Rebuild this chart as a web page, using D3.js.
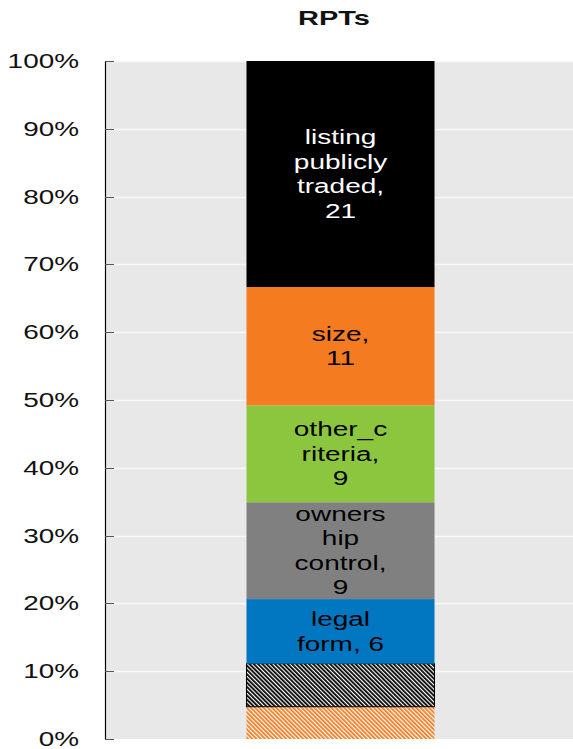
<!DOCTYPE html>
<html>
<head>
<meta charset="utf-8">
<script src="https://cdn.jsdelivr.net/npm/d3@7"></script>
<style>
  body { margin: 0; background: #fff; }
  text { font-family: "Liberation Sans", Arial, sans-serif; }
</style>
</head>
<body>
<div id="chart"></div>
<script>
"use strict";

// segments, bottom to top
var categories = ["other_hatched", "none_hatched", "legal form", "ownership control", "other_criteria", "size", "listing publicly traded"];
var values = [3, 4, 6, 9, 9, 11, 21];
var colors = ["#f47b20", "#000000", "#0077c0", "#808080", "#8cc63f", "#f47b20", "#000000"];
var hatched = [true, true, false, false, false, false, false];
var textColors = ["#000", "#000", "#000", "#000", "#000", "#000", "#fff"];
// label lines as drawn in the bar ({v} = value)
var labelLines = [
    [],
    [],
    ["legal", "form, {v}"],
    ["owners", "hip", "control,", "{v}"],
    ["other_c", "riteria,", "{v}"],
    ["size,", "{v}"],
    ["listing", "publicly", "traded,", "{v}"]
];
var barName = "RPTs";
var tickValues = [0, 0.1, 0.2, 0.3, 0.4, 0.5, 0.6, 0.7, 0.8, 0.9, 1];

var W = 573, H = 749;
var margin = { top: 61, right: -3, bottom: 10, left: 105 };
var stretch = 1.4; // text is drawn horizontally widened

var svg = d3.select("#chart").append("svg")
    .attr("width", W)
    .attr("height", H);

var x = d3.scaleBand()
    .domain([barName])
    .range([margin.left, W - margin.right])
    .padding(0.4294);
var y = d3.scaleLinear()
    .domain([0, 1])
    .range([H - margin.bottom, margin.top]);

var total = d3.sum(values);
var rows = [];
var acc = 0;
values.forEach(function (v, i) {
    rows.push({ i: i, v: v, y0: acc / total, y1: (acc + v) / total });
    acc += v;
});

// hatch patterns
var defs = svg.append("defs");
colors.forEach(function (c, i) {
    if (!hatched[i]) return;
    var p = defs.append("pattern")
        .attr("id", "hatch" + i)
        .attr("patternUnits", "userSpaceOnUse")
        .attr("width", 3)
        .attr("height", 3)
        .attr("patternTransform", "rotate(-45)");
    p.append("rect").attr("width", 3).attr("height", 3).attr("fill", "#fff");
    p.append("rect").attr("width", 1.8).attr("height", 3).attr("fill", c);
});

// plot background
svg.append("rect")
    .attr("x", margin.left)
    .attr("y", y(1))
    .attr("width", W - margin.left)
    .attr("height", y(0) - y(1))
    .attr("fill", "#e8e8e8");

// gridlines
svg.append("g").selectAll("line")
    .data(tickValues.filter(function (d) { return d > 0; }))
    .enter().append("line")
    .attr("x1", margin.left)
    .attr("x2", W)
    .attr("y1", function (d) { return Math.round(y(d)) + 0.5; })
    .attr("y2", function (d) { return Math.round(y(d)) + 0.5; })
    .attr("stroke", "#f8f8f8")
    .attr("stroke-width", 1.5);

// bar segments
svg.append("g").selectAll("rect")
    .data(rows)
    .enter().append("rect")
    .attr("x", x(barName))
    .attr("width", x.bandwidth())
    .attr("y", function (d) { return y(d.y1); })
    .attr("height", function (d) { return y(d.y0) - y(d.y1); })
    .attr("fill", function (d) { return hatched[d.i] ? "url(#hatch" + d.i + ")" : colors[d.i]; })
    .attr("stroke", function (d) { return d.i === 1 ? "#000" : "none"; })
    .attr("stroke-width", 1);

// segment labels
var lineH = 24.5;
var lab = svg.append("g").selectAll("text")
    .data(rows.filter(function (d) { return labelLines[d.i].length; }))
    .enter().append("text")
    .attr("transform", function (d) {
        var n = labelLines[d.i].length;
        var cy = (y(d.y0) + y(d.y1)) / 2;
        var top = cy - (n - 1) * lineH / 2 + 7;
        return "translate(" + (x(barName) + x.bandwidth() / 2) + "," + top + ") scale(" + stretch + ",1)";
    })
    .attr("text-anchor", "middle")
    .attr("font-size", 20)
    .attr("fill", function (d) { return textColors[d.i]; });
lab.selectAll("tspan")
    .data(function (d) {
        return labelLines[d.i].map(function (s) { return s.replace("{v}", d.v); });
    })
    .enter().append("tspan")
    .attr("x", 0)
    .attr("dy", function (d, j) { return j ? lineH : 0; })
    .text(function (d) { return d; });

// y axis
var axis = svg.append("g");
axis.append("line")
    .attr("x1", margin.left + 0.5)
    .attr("x2", margin.left + 0.5)
    .attr("y1", y(1))
    .attr("y2", y(0))
    .attr("stroke", "#000")
    .attr("stroke-width", 1.2);
axis.selectAll(".tick")
    .data(tickValues)
    .enter().append("line")
    .attr("class", "tick")
    .attr("x1", margin.left)
    .attr("x2", margin.left + 9)
    .attr("y1", function (d) { return Math.round(y(d)) + 0.5; })
    .attr("y2", function (d) { return Math.round(y(d)) + 0.5; })
    .attr("stroke", "#555");
axis.selectAll(".lbl")
    .data(tickValues)
    .enter().append("text")
    .attr("class", "lbl")
    .attr("transform", function (d) {
        return "translate(79," + (y(d) + 7) + ") scale(1.33,1)";
    })
    .attr("text-anchor", "end")
    .attr("font-size", 21)
    .attr("fill", "#111")
    .text(d3.format(".0%"));

// title
svg.append("text")
    .attr("transform", "translate(334,25) scale(1.45,1)")
    .attr("text-anchor", "middle")
    .attr("font-size", 20)
    .attr("font-weight", "bold")
    .attr("fill", "#111")
    .text(barName);
</script>
</body>
</html>
